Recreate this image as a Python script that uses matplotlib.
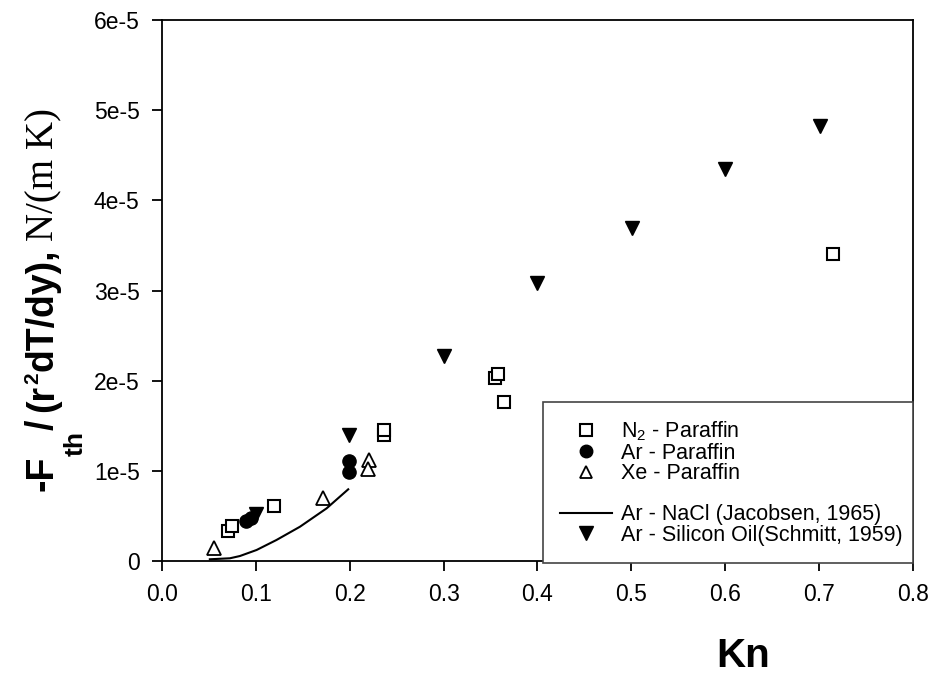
import matplotlib
matplotlib.use("Agg")
import matplotlib.pyplot as plt
from matplotlib.lines import Line2D

# ---- data ----
n2_kn = [0.0706, 0.0742, 0.1196, 0.2367, 0.2367, 0.355, 0.358, 0.3645, 0.715]
n2_f = [0.336e-5, 0.388e-5, 0.613e-5, 1.397e-5, 1.452e-5, 2.025e-5, 2.07e-5, 1.766e-5, 3.41e-5]

ar_kn = [0.0895, 0.0945, 0.199, 0.1995]
ar_f = [0.447e-5, 0.473e-5, 1.109e-5, 0.99e-5]

xe_kn = [0.0557, 0.1718, 0.2208, 0.220]
xe_f = [0.141e-5, 0.695e-5, 1.12e-5, 1.017e-5]

nacl_kn = [0.051, 0.0724, 0.083, 0.1008, 0.122, 0.147, 0.1754, 0.1984]
nacl_f = [0.019e-5, 0.03e-5, 0.055e-5, 0.122e-5, 0.233e-5, 0.38e-5, 0.584e-5, 0.795e-5]

si_kn = [0.1, 0.1995, 0.300, 0.400, 0.501, 0.600, 0.7008]
si_f = [0.52e-5, 1.40e-5, 2.27e-5, 3.085e-5, 3.69e-5, 4.35e-5, 4.83e-5]

xticks = [0.0, 0.1, 0.2, 0.3, 0.4, 0.5, 0.6, 0.7, 0.8]
xticklabels = ["0.0", "0.1", "0.2", "0.3", "0.4", "0.5", "0.6", "0.7", "0.8"]
yticks = [0, 1e-5, 2e-5, 3e-5, 4e-5, 5e-5, 6e-5]
yticklabels = ["0", "1e-5", "2e-5", "3e-5", "4e-5", "5e-5", "6e-5"]

plt.rcParams['font.family'] = ['Liberation Sans', 'DejaVu Sans']
plt.rcParams['mathtext.fontset'] = 'custom'
plt.rcParams['mathtext.rm'] = 'Liberation Sans'
plt.rcParams['mathtext.it'] = 'Liberation Sans'
plt.rcParams['mathtext.bf'] = 'Liberation Sans:bold'

W, H = 934, 679
fig = plt.figure(figsize=(W / 100, H / 100), dpi=100)
ax = fig.add_axes([0.1734, 0.1738, 0.8041, 0.7967])

ms = 9
ax.plot(n2_kn, n2_f, linestyle='none', marker='s', ms=ms, mfc='white', mec='black', mew=1.5, zorder=3)
ax.plot(ar_kn, ar_f, linestyle='none', marker='o', ms=ms + 0.5, mfc='black', mec='black', zorder=3)
ax.plot(xe_kn, xe_f, linestyle='none', marker='^', ms=ms + 1, mfc='white', mec='black', mew=1.3, zorder=3)
ax.plot(nacl_kn, nacl_f, color='black', lw=1.5, zorder=2)
ax.plot(si_kn, si_f, linestyle='none', marker='v', ms=ms + 1, mfc='black', mec='black', zorder=3)

ax.set_xlim(0, 0.8)
ax.set_ylim(0, 6e-5)
ax.set_xticks(xticks)
ax.set_xticklabels(xticklabels)
ax.set_yticks(yticks)
ax.set_yticklabels(yticklabels)
ax.tick_params(direction='out', length=7, width=1.3, labelsize=16.5)
ax.tick_params(axis='y', pad=9)
ax.tick_params(axis='x', pad=9)
for s in ax.spines.values():
    s.set_linewidth(1.3)

# legend
handles = [
    Line2D([], [], linestyle='none', marker='s', ms=8, mfc='white', mec='black', mew=1.5),
    Line2D([], [], linestyle='none', marker='o', ms=9, mfc='black', mec='black'),
    Line2D([], [], linestyle='none', marker='^', ms=9, mfc='white', mec='black', mew=1.3),
    Line2D([], [], linestyle='none', marker=None),
    Line2D([], [], color='black', lw=1.5),
    Line2D([], [], linestyle='none', marker='v', ms=10, mfc='black', mec='black'),
]
labels = [r"N$_2$ - Paraffin", "Ar - Paraffin", "Xe - Paraffin", " ",
          "Ar - NaCl (Jacobsen, 1965)", "Ar - Silicon Oil(Schmitt, 1959)"]
leg = ax.legend(handles, labels, loc='lower left', bbox_to_anchor=(0.507, -0.004, 0.4927, 0.3),
                mode='expand', fontsize=15.5, frameon=True, fancybox=False, framealpha=1,
                edgecolor='#444444', handlelength=2.4, handletextpad=0.45,
                labelspacing=-0.02, borderpad=0.8, borderaxespad=0)
leg.get_frame().set_linewidth(1.2)
leg.set_zorder(5)

# rotated y label built from runs (baseline vertical at x = base_x)
fig.canvas.draw()
renderer = fig.canvas.get_renderer()
base_x = 53.0          # pixel x of main baseline
y_cur = H - 491.0      # pixel y (from bottom) where label starts
sans = ['Liberation Sans', 'DejaVu Sans']
serif = ['Liberation Serif', 'DejaVu Serif']
runs = [
    ("-F", 27, 0, sans, 'bold', 0),
    ("th", 19, 30, sans, 'bold', 1),
    ("/", 27, 0, sans, 'bold', 7),
    ("(r", 27, 0, sans, 'bold', 1),
    ("2", 15, -15, sans, 'bold', 1),
    ("dT/dy),", 27, 0, sans, 'bold', 8),
    ("N/(m K)", 28, 0, serif, 'normal', 0),
]
for txt, size, off, family, wt, gap in runs:
    t = fig.text((base_x + off) / W, y_cur / H, txt, rotation=90, rotation_mode='anchor',
                 ha='left', va='baseline', fontsize=size, fontweight=wt, family=family)
    bb = t.get_window_extent(renderer)
    y_cur = bb.y1 + gap

fig.text(0.7955, 12 / H, "Kn", fontsize=29, fontweight='bold', ha='center', va='baseline')

fig.savefig("out.png", dpi=100)
